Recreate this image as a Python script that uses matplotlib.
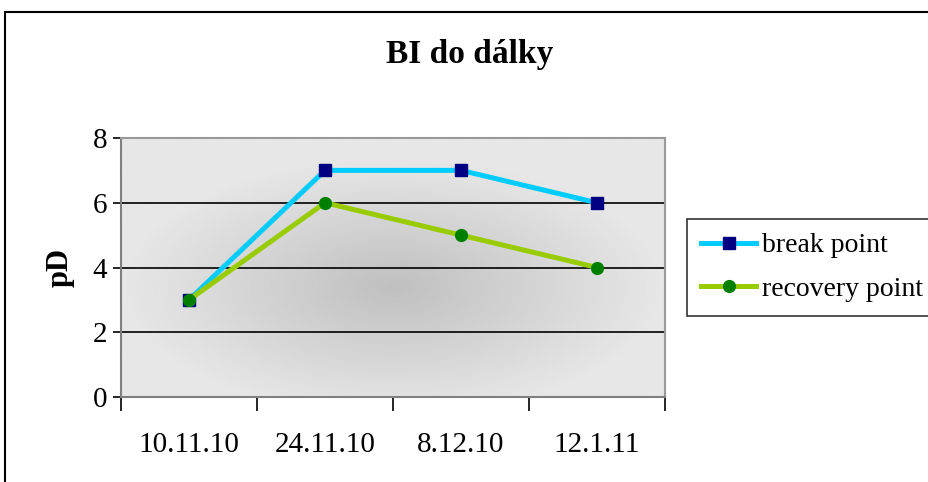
import numpy as np
import matplotlib
matplotlib.use("Agg")
import matplotlib.pyplot as plt
from matplotlib.patches import Rectangle

plt.rcParams['font.family'] = ['Liberation Serif', 'DejaVu Serif']

dates = ["10.11.10", "24.11.10", "8.12.10", "12.1.11"]
break_point = [3, 7, 7, 6]
recovery_point = [3, 6, 5, 4]
y_ticks = [0, 2, 4, 6, 8]

fig = plt.figure(figsize=(9.29, 4.82), dpi=100)
fig.patch.set_facecolor("white")

# outer chart frame (runs off the right and bottom edges)
fig.add_artist(Rectangle((5 / 929, -0.1), 1.2, 1 - 12 / 482 + 0.1,
                         transform=fig.transFigure, fill=False,
                         edgecolor="black", linewidth=1.5))

ax = fig.add_axes([121 / 929, 85 / 482, 544 / 929, 259 / 482])

x = np.arange(len(dates))
ax.set_xlim(-0.5, len(dates) - 0.5)
ax.set_ylim(0, 8)

# radial grey shading of the plot area
gx, gy = np.meshgrid(np.linspace(-1, 1, 400), np.linspace(-1, 1, 200))
r = np.sqrt((gx / 1.0) ** 2 + ((gy + 0.15) / 1.0) ** 2)
shade = np.clip(r, 0, 1)
img = 0.75 + (0.905 - 0.75) * shade
ax.imshow(img, cmap="gray", vmin=0, vmax=1, origin="lower",
          extent=(-0.5, len(dates) - 0.5, 0, 8), aspect="auto",
          zorder=0, interpolation="bilinear")

for yv in y_ticks[1:]:
    ax.axhline(yv, color="black", linewidth=1.2, zorder=1)

ax.plot(x, break_point, color="#00ccff", linewidth=3.6, marker="s",
        markersize=8.5, markerfacecolor="#000080", markeredgecolor="#000080",
        label="break point", zorder=3)
ax.plot(x, recovery_point, color="#99cc00", linewidth=3.6, marker="o",
        markersize=8.5, markerfacecolor="#008000", markeredgecolor="#008000",
        label="recovery point", zorder=4)

for side in ["top", "right"]:
    ax.spines[side].set_color("#999999")
    ax.spines[side].set_linewidth(1.5)
ax.spines["left"].set_color("#808080")
ax.spines["bottom"].set_color("#808080")
ax.spines["left"].set_linewidth(1.5)
ax.spines["bottom"].set_linewidth(1.5)

ax.set_yticks(y_ticks)
ax.set_yticklabels([str(v) for v in y_ticks], fontsize=21)
ax.tick_params(axis="y", length=6, width=1.2, color="black", pad=4)

# category ticks sit between the categories, labels under the points
ax.set_xticks(np.arange(len(dates) + 1) - 0.5)
ax.set_xticklabels([])
ax.set_xticks(x, minor=True)
ax.set_xticklabels(dates, minor=True, fontsize=21)
ax.tick_params(axis="x", which="major", length=10, width=1.2, color="black")
ax.tick_params(axis="x", which="minor", length=0, pad=25)

ax.set_ylabel("pD", fontsize=22, fontweight="bold", labelpad=13)
fig.text(470 / 929, 1 - 54 / 482, "BI do dálky", fontsize=24,
         fontweight="bold", ha="center", va="center")

leg = ax.legend(loc="center left", bbox_to_anchor=(566 / 544, 0.5),
                fontsize=20, frameon=True, fancybox=False, handlelength=2.0,
                handletextpad=0.2, borderpad=0.5, borderaxespad=0,
                labelspacing=0.65)
leg.get_frame().set_edgecolor("black")
leg.get_frame().set_linewidth(1.2)

fig.savefig("out.png", dpi=100)
